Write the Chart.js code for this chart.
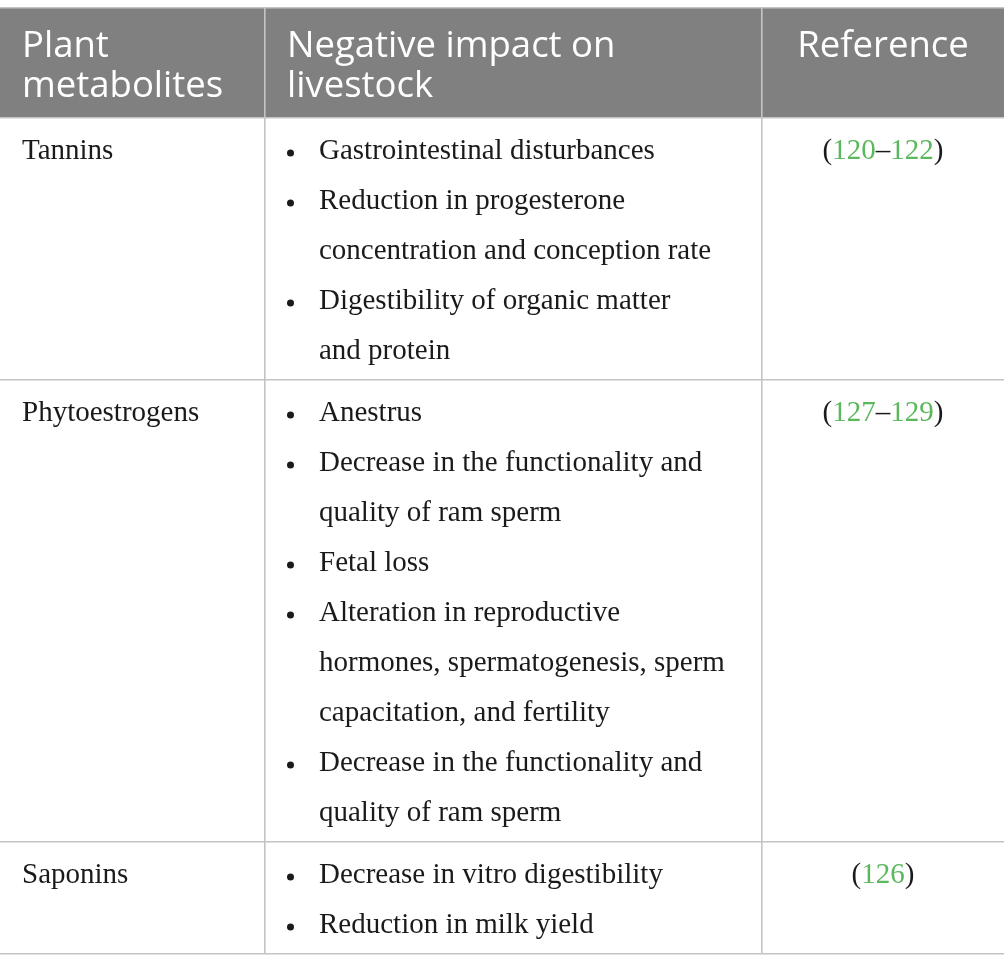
<!DOCTYPE html>
<html>
<head>
<meta charset="utf-8">
<style>
  html, body { margin: 0; padding: 0; background: #fff; }
  #wrap { width: 1004px; height: 971px; position: relative; }
</style>
<script src="https://cdn.jsdelivr.net/npm/chart.js@4.4.0/dist/chart.umd.min.js"></script>
</head>
<body>
<div id="wrap"><canvas id="table"></canvas></div>
<script>
const headers = [['Plant', 'metabolites'], ['Negative impact on', 'livestock'], ['Reference']];
const metabolites = ['Tannins', 'Phytoestrogens', 'Saponins'];
const impacts = [
    [
        ['Gastrointestinal disturbances'],
        ['Reduction in progesterone', 'concentration and conception rate'],
        ['Digestibility of organic matter', 'and protein']
    ],
    [
        ['Anestrus'],
        ['Decrease in the functionality and', 'quality of ram sperm'],
        ['Fetal loss'],
        ['Alteration in reproductive', 'hormones, spermatogenesis, sperm', 'capacitation, and fertility'],
        ['Decrease in the functionality and', 'quality of ram sperm']
    ],
    [
        ['Decrease in vitro digestibility'],
        ['Reduction in milk yield']
    ]
];
const references = [[120, 122], [127, 129], [126]];

// layout (pixels)
const colEdges = [0, 265, 762, 1004];
const TOP = 8, HEAD_H = 110, LINE_H = 50, ROW_PAD = 12;
const rowLines = impacts.map(items => items.reduce((n, it) => n + it.length, 0));
const rowEdges = [0, HEAD_H];
rowLines.forEach(n => rowEdges.push(rowEdges[rowEdges.length - 1] + ROW_PAD + n * LINE_H));
const tableH = rowEdges[rowEdges.length - 1];

const headFont = '36.5px "Open Sans"';
const bodyFont = '29px "Liberation Serif"';
const green = '#5cb85c';
const ink = '#1a1a1a';

// bullet points, one per item, at the first line of each item
const bullets = [];
impacts.forEach((items, r) => {
    let line = 0;
    items.forEach(it => {
        bullets.push({ x: 290.5, y: rowEdges[r + 1] + 35 + line * LINE_H });
        line += it.length;
    });
});

const tablePlugin = {
    id: 'tableCells',
    beforeDraw(chart) {
        const { ctx, scales: { x, y } } = chart;
        ctx.save();
        ctx.fillStyle = '#808080';
        ctx.fillRect(x.getPixelForValue(colEdges[0]), y.getPixelForValue(0),
            x.getPixelForValue(colEdges[3]) - x.getPixelForValue(colEdges[0]),
            y.getPixelForValue(HEAD_H) - y.getPixelForValue(0));
        ctx.restore();
    },
    afterDraw(chart) {
        const { ctx, scales: { x, y } } = chart;
        ctx.save();
        ctx.textBaseline = 'alphabetic';

        // header
        ctx.font = headFont;
        ctx.fillStyle = '#ffffff';
        headers.forEach((lines, c) => {
            lines.forEach((t, i) => {
                const by = y.getPixelForValue(49 + i * 40);
                if (c === 2) {
                    ctx.textAlign = 'center';
                    ctx.fillText(t, x.getPixelForValue((colEdges[2] + colEdges[3]) / 2), by);
                } else {
                    ctx.textAlign = 'left';
                    ctx.fillText(t, x.getPixelForValue(colEdges[c] + 22), by);
                }
            });
        });

        // body
        ctx.font = bodyFont;
        metabolites.forEach((name, r) => {
            const top = rowEdges[r + 1];
            ctx.fillStyle = ink;
            ctx.textAlign = 'left';
            ctx.fillText(name, x.getPixelForValue(colEdges[0] + 22), y.getPixelForValue(top + 41));

            let line = 0;
            impacts[r].forEach(it => {
                it.forEach(t => {
                    ctx.fillText(t, x.getPixelForValue(colEdges[1] + 54), y.getPixelForValue(top + 41 + line * LINE_H));
                    line++;
                });
            });

            // reference: (a–b) with numbers in green
            const ref = references[r];
            const parts = [['(', ink]];
            ref.forEach((n, k) => {
                if (k > 0) parts.push(['\u2013', ink]);
                parts.push([String(n), green]);
            });
            parts.push([')', ink]);
            const total = parts.reduce((w, p) => w + ctx.measureText(p[0]).width, 0);
            let px = x.getPixelForValue((colEdges[2] + colEdges[3]) / 2) - total / 2;
            const by = y.getPixelForValue(top + 41);
            parts.forEach(([t, col]) => {
                ctx.fillStyle = col;
                ctx.fillText(t, px, by);
                px += ctx.measureText(t).width;
            });
        });
        ctx.restore();
    }
};

const gridColor = '#c4c4c4';

new Chart(document.getElementById('table'), {
    type: 'scatter',
    data: {
        datasets: [{
            data: bullets,
            pointRadius: 3.5,
            pointHoverRadius: 3.5,
            backgroundColor: ink,
            borderWidth: 0
        }]
    },
    options: {
        responsive: true,
        maintainAspectRatio: false,
        animation: false,
        events: [],
        layout: { autoPadding: false, padding: { top: TOP, bottom: 971 - TOP - tableH, left: 0, right: 0 } },
        plugins: { legend: { display: false }, tooltip: { enabled: false } },
        scales: {
            x: {
                type: 'linear',
                min: colEdges[0],
                max: colEdges[3],
                afterBuildTicks: s => { s.ticks = colEdges.slice(1, 3).map(v => ({ value: v })); },
                ticks: { display: false },
                border: { display: false },
                grid: { color: gridColor, lineWidth: 1.6, drawTicks: false }
            },
            y: {
                type: 'linear',
                reverse: true,
                min: 0,
                max: tableH,
                afterBuildTicks: s => { s.ticks = rowEdges.map(v => ({ value: v })); },
                ticks: { display: false },
                border: { display: false },
                grid: { color: gridColor, lineWidth: 1.6, drawTicks: false }
            }
        }
    },
    plugins: [tablePlugin]
});
</script>
</body>
</html>
